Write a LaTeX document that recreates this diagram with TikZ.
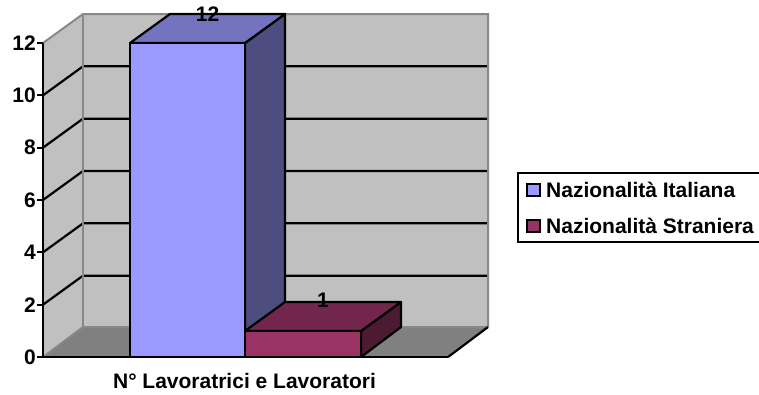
\documentclass[tikz,border=0pt]{standalone}
\usepackage{fontspec}
\setmainfont{Liberation Sans}
\definecolor{wallc}{HTML}{C0C0C0}
\definecolor{floorc}{HTML}{808080}
\definecolor{edgec}{HTML}{888888}
\definecolor{itaF}{HTML}{9999FF}
\definecolor{itaT}{HTML}{7373BF}
\definecolor{itaS}{HTML}{4D4D80}
\definecolor{strF}{HTML}{993366}
\definecolor{strT}{HTML}{73264D}
\definecolor{strS}{HTML}{4D1A33}
\tikzset{
  lbl/.style={font=\fontsize{21}{24}\selectfont\bfseries, inner sep=0pt},
  gridln/.style={black, line width=2.2pt},
  walledge/.style={edgec, line width=2pt},
  baredge/.style={black, line width=2.2pt, line join=round},
  axisln/.style={black, line width=2.6pt},
}
\begin{document}
\begin{tikzpicture}[x=1pt,y=-1pt]
\useasboundingbox (0,0) rectangle (759,394);
% walls and floor
\fill[wallc] (43,357)--(43,43)--(83,14)--(83,327)--cycle;
\fill[wallc] (83,14) rectangle (488,327);
\fill[floorc] (43,357)--(83,327)--(488,327)--(448,357)--cycle;
% gridlines
\foreach \v in {2,4,6,8,10}{
  \pgfmathsetmacro{\yy}{357-26.1667*\v}
  \pgfmathsetmacro{\yb}{\yy-29}
  \draw[gridln] (43,\yy)--(83,\yb)--(488,\yb);
}
% wall edges
\draw[walledge] (43,43)--(83,14)--(488,14)--(488,327);
\draw[walledge] (83,14)--(83,327);
\draw[walledge] (43,357)--(83,327)--(488,327);
\draw[baredge] (448,357)--(488,327);
% bar 1: Nazionalita Italiana (12)
\filldraw[baredge, fill=itaS] (245,43)--(285,14)--(285,327)--(245,357)--cycle;
\filldraw[baredge, fill=itaT] (130,43)--(170,14)--(285,14)--(245,43)--cycle;
\filldraw[baredge, fill=itaF] (130,43) rectangle (245,357);
% bar 2: Nazionalita Straniera (1)
\filldraw[baredge, fill=strS] (361,331)--(401,302)--(401,327)--(361,357)--cycle;
\filldraw[baredge, fill=strT] (245,331)--(285,302)--(401,302)--(361,331)--cycle;
\filldraw[baredge, fill=strF] (245,331) rectangle (361,357);
% axes
\draw[axisln] (43,43)--(43,357)--(448,357);
\foreach \v in {0,2,4,6,8,10,12}{
  \pgfmathsetmacro{\yy}{357-26.1667*\v}
  \draw[axisln, line width=2.2pt] (37,\yy)--(43,\yy);
  \node[lbl, anchor=east] (y\v) at (36,\yy) {\v};
}
% value labels
\node[lbl] (v12) at (207.5,14.5) {12};
\node[lbl] (v1) at (323,300.5) {1};
% category title
\node[lbl] (title) at (244.5,380.5) {N° Lavoratrici e Lavoratori};
% legend
\draw[black, line width=2pt] (518,173) rectangle (770,242);
\node[draw=black, line width=2pt, fill=itaF, minimum size=12.5pt, inner sep=0pt] (sqA) at (533.5,190) {};
\node[draw=black, line width=2pt, fill=strF, minimum size=12.5pt, inner sep=0pt] (sqB) at (533.5,226) {};
\node[lbl, anchor=west] (legA) at (546,190) {Nazionalità Italiana};
\node[lbl, anchor=west] (legB) at (546,226) {Nazionalità Straniera};
\end{tikzpicture}
\end{document}
